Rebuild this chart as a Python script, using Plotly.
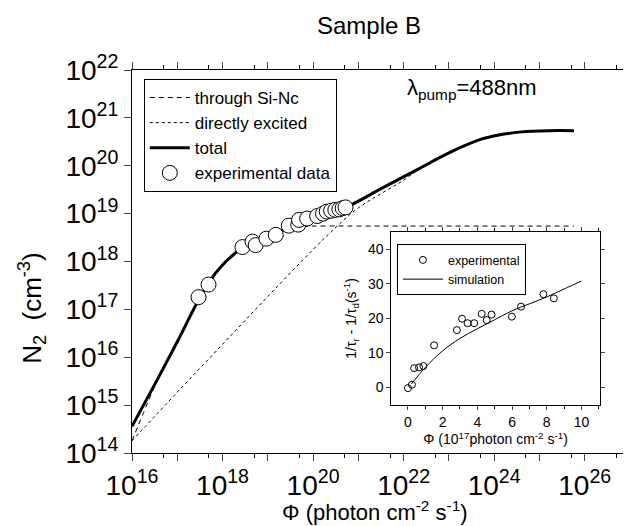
import plotly.graph_objects as go

# ── main panel: N2 vs photon flux (log-log) ────────────────────────────────
si_phi = [1e16, 1.8e16, 3.2e16, 1e17, 3.2e17, 1e18, 2.5e18, 1.26e19, 6.3e19, 1.6e20, 1e21, 5.8e25]
si_n   = [1.8e14, 7e14, 2.5e15, 1.95e16, 1.7e17, 8e17, 1.75e18, 3.3e18, 5.3e18, 5.5e18, 5.5e18, 5.5e18]

dir_phi = [1e16, 1e17, 1e18, 1e19, 1e20, 3.2e20, 1e21, 1e22, 2e22, 1e23, 5e23, 1.26e24, 4e24, 1.6e25, 5.8e25]
dir_n   = [1.8e14, 1.86e15, 1.86e16, 1.86e17, 1.78e18, 5.2e18, 1.32e19, 5e19, 7.9e19, 1.8e20, 3.5e20, 4.3e20, 5e20, 5.35e20, 5.35e20]

tot_phi = [1e16, 3.2e16, 1e17, 3.2e17, 7.9e17, 2.5e18, 1.26e19, 6.3e19, 5e20, 3.5e21, 2e22, 1e23, 5e23, 1.26e24, 4e24, 1.6e25, 5.8e25]
tot_n   = [3.6e14, 2.75e15, 2.1e16, 1.8e17, 6.6e17, 1.8e18, 3.6e18, 6.9e18, 1.32e19, 3.5e19, 8.3e19, 1.86e20, 3.55e20, 4.4e20, 5.1e20, 5.4e20, 5.4e20]

exp_phi = [2.95e17, 4.9e17, 2.75e18, 4.6e18, 5.4e18, 9.3e18, 1.5e19, 2.9e19, 4.7e19, 4.9e19,
           7.4e19, 1.23e20, 1.66e20, 2.0e20, 2.5e20, 3.1e20, 3.8e20, 4.5e20, 5.2e20]
exp_n   = [1.8e17, 3.3e17, 2.0e18, 2.6e18, 2.2e18, 3.0e18, 3.6e18, 5.6e18, 5.9e18, 7.4e18,
           7.9e18, 8.9e18, 1.0e19, 1.1e19, 1.15e19, 1.2e19, 1.23e19, 1.3e19, 1.35e19]

x_exps = list(range(16, 27))
y_exps = list(range(14, 23))

# ── inset: 1/tau_r - 1/tau_d vs flux (linear) ──────────────────────────────
ins_phi  = [0, 0.23, 0.36, 0.64, 0.89, 1.51, 2.82, 3.12, 3.44, 3.82, 4.25, 4.54, 4.82, 5.99, 6.52, 7.81, 8.41]
ins_rate = [-0.2, 0.8, 5.6, 5.8, 6.2, 12.2, 16.6, 19.9, 18.6, 18.6, 21.3, 19.5, 21.1, 20.5, 23.4, 27.0, 25.8]
sim_phi  = [0.2, 1, 2, 3, 4, 5, 6, 7, 8, 9, 10]
sim_rate = [1.0, 5.8, 10.6, 14.2, 17.0, 19.6, 22.2, 24.2, 26.2, 28.5, 30.8]

FONT = "Liberation Sans, Arial, Helvetica, sans-serif"

fig = go.Figure()
fig.add_trace(go.Scatter(x=si_phi, y=si_n, mode="lines", name="through Si-Nc",
                         line=dict(color="black", width=1, dash="5px,4px", shape="spline")))
fig.add_trace(go.Scatter(x=dir_phi, y=dir_n, mode="lines", name="directly excited",
                         line=dict(color="black", width=1, dash="dot", shape="spline")))
fig.add_trace(go.Scatter(x=tot_phi, y=tot_n, mode="lines", name="total",
                         line=dict(color="black", width=3, shape="spline")))
fig.add_trace(go.Scatter(x=exp_phi, y=exp_n, mode="markers", name="experimental data",
                         marker=dict(symbol="circle", size=15, color="white",
                                     line=dict(color="black", width=1))))

# inset traces
fig.add_trace(go.Scatter(x=ins_phi, y=ins_rate, mode="markers", name="experimental",
                         xaxis="x2", yaxis="y2", legend="legend2",
                         marker=dict(symbol="circle-open", size=7, color="black",
                                     line=dict(width=1))))
fig.add_trace(go.Scatter(x=sim_phi, y=sim_rate, mode="lines", name="simulation",
                         xaxis="x2", yaxis="y2", legend="legend2",
                         line=dict(color="black", width=1, shape="spline")))

fig.update_layout(
    width=631, height=526,
    margin=dict(l=124, r=1, t=62, b=81),
    paper_bgcolor="white", plot_bgcolor="white",
    font=dict(family=FONT, color="black"),
    showlegend=True,
    xaxis=dict(
        type="log", range=[16, 27],
        tickvals=[10.0 ** e for e in x_exps],
        ticktext=[f"10<sup>{e}</sup>" if e % 2 == 0 else "" for e in x_exps],
        tickfont=dict(size=28), ticks="outside", ticklen=7, tickwidth=1,
        showline=True, linecolor="black", linewidth=1, mirror="ticks",
        showgrid=False, zeroline=False,
        minor=dict(tickvals=[5 * 10.0 ** e for e in x_exps], ticks="outside",
                   ticklen=4, tickcolor="black", showgrid=False),
    ),
    yaxis=dict(
        type="log", range=[14, 22],
        tickvals=[10.0 ** e for e in y_exps],
        ticktext=[f"10<sup>{e}</sup>" for e in y_exps],
        tickfont=dict(size=28), ticks="outside", ticklen=7, tickwidth=1,
        showline=True, linecolor="black", linewidth=1, mirror="ticks",
        showgrid=False, zeroline=False,
    ),
    xaxis2=dict(
        domain=[0.521, 0.939], anchor="y2", range=[-0.95, 11.05],
        dtick=2, tick0=0, tickfont=dict(size=14), ticks="outside", ticklen=4,
        showline=True, linecolor="black", linewidth=1, mirror="ticks",
        showgrid=False, zeroline=False,
        minor=dict(dtick=1, ticks="outside", ticklen=3, tickcolor="black", showgrid=False),
        title=dict(text="Φ (10<sup>17</sup>photon cm<sup>-2</sup> s<sup>-1</sup>)",
                   font=dict(size=14), standoff=1),
    ),
    yaxis2=dict(
        domain=[0.126, 0.577], anchor="x2", range=[-5, 45],
        dtick=10, tickfont=dict(size=14), ticks="outside", ticklen=4,
        showline=True, linecolor="black", linewidth=1, mirror="ticks",
        showgrid=False, zeroline=False,
        title=dict(text="1/τ<sub>r</sub> - 1/τ<sub>d</sub>(s<sup>-1</sup>)",
                   font=dict(size=14), standoff=8),
    ),
    legend=dict(
        x=0.0237, y=0.9765, xanchor="left", yanchor="top",
        bgcolor="white", bordercolor="black", borderwidth=1,
        font=dict(size=17), tracegroupgap=0, itemwidth=40,
    ),
    legend2=dict(
        x=0.532, y=0.545, xanchor="left", yanchor="top",
        bgcolor="white", bordercolor="black", borderwidth=1,
        font=dict(size=12.5), itemwidth=40,
    ),
)

fig.add_annotation(text="Sample B", x=0.476, y=1.115, xref="paper", yref="paper",
                   showarrow=False, font=dict(size=24), yanchor="middle")
fig.add_annotation(text="Φ (photon cm<sup>-2</sup> s<sup>-1</sup>)", x=0.488, y=-0.152,
                   xref="paper", yref="paper", showarrow=False, font=dict(size=22),
                   yanchor="middle")
fig.add_annotation(text="N<sub>2</sub>  (cm<sup>-3</sup>)", x=-0.2, y=0.38,
                   xref="paper", yref="paper", showarrow=False, font=dict(size=26),
                   textangle=-90, xanchor="center", yanchor="middle")
fig.add_annotation(text="λ<sub>pump</sub>=488nm", x=0.548, y=0.95,
                   xref="paper", yref="paper", showarrow=False, font=dict(size=22),
                   xanchor="left", yanchor="middle")

fig.write_html("out.html")
